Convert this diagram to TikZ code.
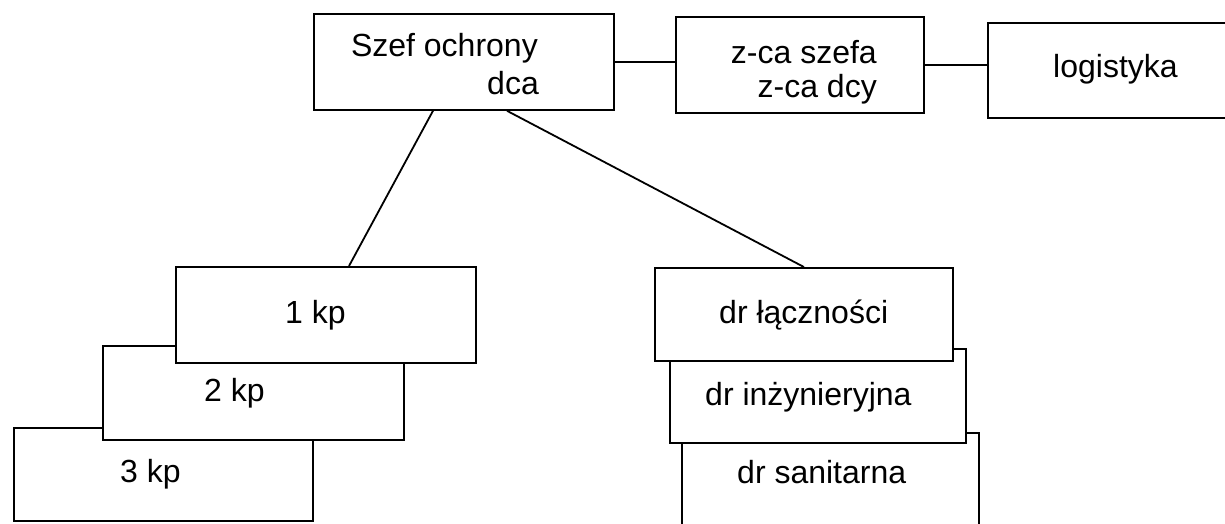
\documentclass[tikz,border=0pt]{standalone}
\usepackage{fontspec}
\setmainfont{Liberation Sans}
\begin{document}
\begin{tikzpicture}[x=1pt,y=-1pt,
  box/.style={draw, line width=1.8pt, fill=white, inner sep=0pt, anchor=north west},
  lbl/.style={font=\fontsize{32}{38}\selectfont, inner sep=0pt},
  link/.style={line width=1.8pt}]
\useasboundingbox (0,0) rectangle (1225,523);
\clip (0,0) rectangle (1225,523);
% top row
\node[box, minimum width=300pt, minimum height=96pt] (szef) at (313,13) {};
\node[box, minimum width=248pt, minimum height=96pt] (zca) at (675,16) {};
\node[box, minimum width=262pt, minimum height=95pt] (log) at (987,22) {};
% left stack
\node[box, minimum width=299pt, minimum height=93pt] (kp3) at (13,427) {};
\node[box, minimum width=301pt, minimum height=94pt] (kp2) at (102,345) {};
\node[box, minimum width=300pt, minimum height=96pt] (kp1) at (175,266) {};
% right stack
\node[box, minimum width=297pt, minimum height=110pt] (dr3) at (681,432) {};
\node[box, minimum width=296pt, minimum height=94pt] (dr2) at (669,348) {};
\node[box, minimum width=298pt, minimum height=93pt] (dr1) at (654,267) {};
% texts
\node[lbl, anchor=base east] (t1a) at (538,56) {Szef ochrony};
\node[lbl, anchor=base east] (t1b) at (539,94) {dca};
\node[lbl, anchor=base east] (t2a) at (877,63) {z-ca szefa};
\node[lbl, anchor=base east] (t2b) at (877,97) {z-ca dcy};
\node[lbl, anchor=base west] (t3) at (1053,77) {logistyka};
\node[lbl, anchor=base west] (t4) at (285,323) {1 kp};
\node[lbl, anchor=base west] (t5) at (204,401) {2 kp};
\node[lbl, anchor=base west] (t6) at (120,482) {3 kp};
\node[lbl, anchor=base west] (t7) at (719,323) {dr łączności};
\node[lbl, anchor=base west] (t8) at (705,405) {dr inżynieryjna};
\node[lbl, anchor=base west] (t9) at (737,483) {dr sanitarna};
% connectors
\draw[link] (szef.east) -- (szef.east -| zca.west);
\draw[link] (zca.east) -- (zca.east -| log.west);
\draw[link] ([xshift=120pt]szef.south west) -- ([xshift=174pt]kp1.north west);
\draw[link] ([xshift=194pt]szef.south west) -- (dr1.north);
\end{tikzpicture}
\end{document}
